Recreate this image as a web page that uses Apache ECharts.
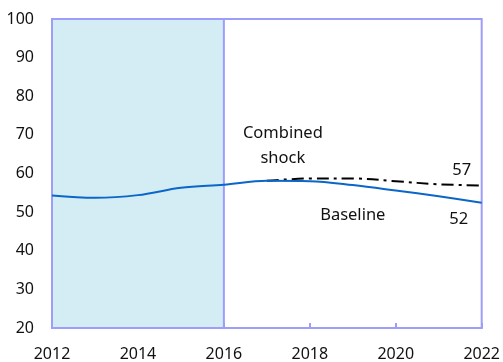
<!DOCTYPE html>
<html>
<head>
<meta charset="utf-8">
<script src="https://cdn.jsdelivr.net/npm/echarts@6/dist/echarts.min.js"></script>
<style>html,body{margin:0;padding:0;background:#fff}#c{width:503px;height:362px}</style>
</head>
<body>
<div id="c"></div>
<script>
// Years and the two projection paths
const years = [2012, 2013, 2014, 2015, 2016, 2017, 2018, 2019, 2020, 2021, 2022];
const baseline = [54.3, 53.7, 54.4, 56.3, 57.1, 58.1, 58.0, 57.0, 55.6, 54.1, 52.4];
const combinedYears = [2017, 2018, 2019, 2020, 2021, 2022];
const combined = [58.1, 58.7, 58.7, 58.0, 57.2, 56.9];
const historyRange = [2012, 2016];
const yTicks = { min: 20, max: 100, step: 10 };
const xTicks = { min: 2012, max: 2022, step: 2 };

const axisColor = '#9d9dfc';
const font = '"Noto Sans", "Open Sans", sans-serif';
const textColor = '#111';

const baseData = years.map((y, i) => {
  const item = { value: [y, baseline[i]] };
  if (y === 2019) {
    item.label = { show: true, formatter: 'Baseline', position: 'bottom', distance: 22, color: textColor, fontSize: 16.5, fontFamily: font };
  }
  if (i === years.length - 1) {
    item.label = { show: true, formatter: p => Math.round(p.value[1]), position: 'bottom', offset: [-23, 3], color: textColor, fontSize: 16.5, fontFamily: font };
  }
  return item;
});

const combData = combinedYears.map((y, i) => {
  const item = { value: [y, combined[i]] };
  if (y === 2017) {
    item.label = { show: true, formatter: 'Combined\nshock', position: 'top', offset: [16, -5], lineHeight: 25, align: 'center', color: textColor, fontSize: 16.5, fontFamily: font };
  }
  if (i === combinedYears.length - 1) {
    item.label = { show: true, formatter: p => Math.round(p.value[1]), position: 'top', offset: [-20, -2], color: textColor, fontSize: 16.5, fontFamily: font };
  }
  return item;
});

const chart = echarts.init(document.getElementById('c'), null, { renderer: 'canvas' });
chart.setOption({
  animation: false,
  backgroundColor: '#fff',
  grid: { left: 52, right: 20, top: 19, bottom: 33, show: true, borderColor: axisColor, borderWidth: 2 },
  xAxis: {
    type: 'value', min: xTicks.min, max: xTicks.max, interval: xTicks.step,
    axisLine: { lineStyle: { color: axisColor, width: 2 } },
    axisTick: { inside: true, length: 5, lineStyle: { color: axisColor, width: 2 } },
    splitLine: { show: false },
    axisLabel: { color: textColor, fontSize: 16, fontFamily: font, margin: 18, formatter: v => String(v) }
  },
  yAxis: {
    type: 'value', min: yTicks.min, max: yTicks.max, interval: yTicks.step,
    axisLine: { show: true, lineStyle: { color: axisColor, width: 2 } },
    axisTick: { show: true, inside: true, length: 5, lineStyle: { color: axisColor, width: 2 } },
    splitLine: { show: false },
    axisLabel: { color: textColor, fontSize: 16, fontFamily: font, margin: 18 }
  },
  series: [
    {
      name: 'Baseline', type: 'line', data: baseData, smooth: 0.35,
      symbol: 'circle', symbolSize: 0, showSymbol: true,
      lineStyle: { color: '#0a66c8', width: 2 }, z: 3,
      markArea: {
        silent: true,
        itemStyle: { color: '#d4edf4', borderColor: axisColor, borderWidth: 2 },
        data: [[{ xAxis: historyRange[0] }, { xAxis: historyRange[1] }]]
      }
    },
    {
      name: 'Combined shock', type: 'line', data: combData, smooth: 0.35,
      symbol: 'circle', symbolSize: 0, showSymbol: true,
      lineStyle: { color: '#000', width: 2, type: [12, 5, 3, 5] }, z: 2
    }
  ]
});
</script>
</body>
</html>
